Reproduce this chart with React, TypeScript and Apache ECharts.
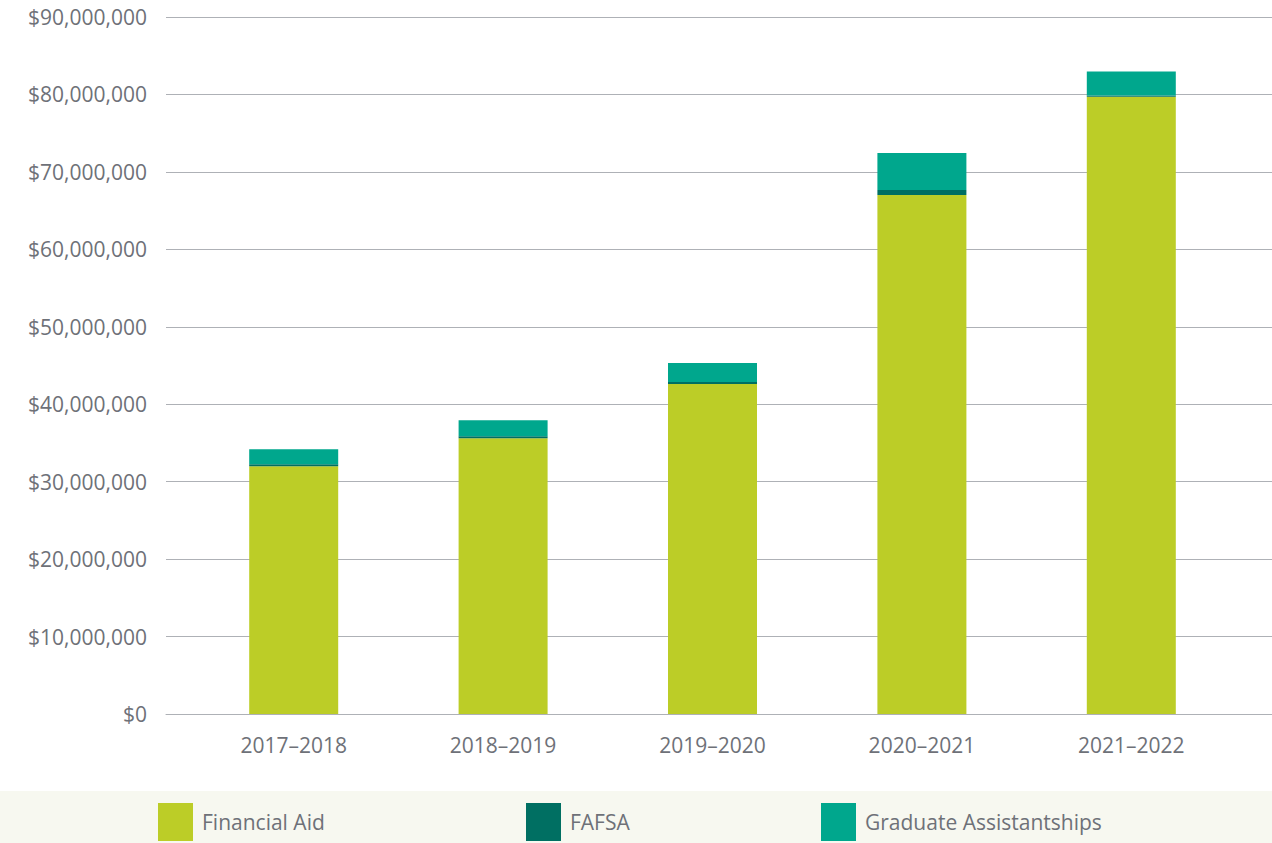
import React, { useEffect, useRef } from "react";
import * as echarts from "echarts";

const categories = ["2017–2018", "2018–2019", "2019–2020", "2020–2021", "2021–2022"];
const financialAid = [32000000, 35600000, 42600000, 67000000, 79700000];
const fafsa = [260000, 260000, 260000, 650000, 150000];
const graduateAssistantships = [1940000, 2070000, 2450000, 4780000, 3100000];
const yMax = 90000000;
const yInterval = 10000000;

const FONT = "'Open Sans', 'Noto Sans', sans-serif";
const TEXT = "#6e7178";
const GRID = "#aeb1b6";

export default function App() {
  const ref = useRef<HTMLDivElement>(null);
  useEffect(() => {
    document.body.style.margin = "0";
    const chart = echarts.init(ref.current!, undefined, { renderer: "svg" });
    const legendCommon = {
      top: 803,
      padding: 0,
      itemWidth: 35,
      itemHeight: 38,
      icon: "rect",
      textStyle: { fontFamily: FONT, fontSize: 21, color: TEXT, padding: [0, 0, 0, 4] },
      selectedMode: false,
    };
    chart.setOption({
      animation: false,
      textStyle: { fontFamily: FONT },
      graphic: [
        {
          type: "rect",
          z: -10,
          shape: { x: 0, y: 791, width: 1272, height: 52 },
          style: { fill: "#f7f8f0" },
          silent: true,
        },
      ],
      legend: [
        { ...legendCommon, left: 158, data: ["Financial Aid"] },
        { ...legendCommon, left: 526, data: ["FAFSA"] },
        { ...legendCommon, left: 821, data: ["Graduate Assistantships"] },
      ],
      grid: [
        { left: 166, right: 0, top: 17, height: 697 },
        { left: 189, width: 1047, top: 17, height: 697 },
      ],
      xAxis: [
        {
          gridIndex: 0,
          type: "category",
          data: categories,
          axisLine: { show: true, lineStyle: { color: GRID, width: 1 } },
          axisTick: { show: false },
          axisLabel: { show: false },
        },
        {
          gridIndex: 1,
          type: "category",
          data: categories,
          axisLine: { show: false },
          axisTick: { show: false },
          axisLabel: { fontFamily: FONT, fontSize: 21, color: TEXT, margin: 20 },
        },
      ],
      yAxis: [
        {
          gridIndex: 0,
          type: "value",
          min: 0,
          max: yMax,
          interval: yInterval,
          axisLine: { show: false },
          axisTick: { show: false },
          splitLine: { lineStyle: { color: GRID, width: 1 } },
          axisLabel: {
            fontFamily: FONT,
            fontSize: 21,
            color: TEXT,
            margin: 19,
            formatter: (v: number) => "$" + v.toLocaleString("en-US"),
          },
        },
        {
          gridIndex: 1,
          type: "value",
          min: 0,
          max: yMax,
          interval: yInterval,
          show: false,
          splitLine: { show: false },
        },
      ],
      series: [
        {
          name: "Financial Aid",
          type: "bar",
          stack: "total",
          xAxisIndex: 1,
          yAxisIndex: 1,
          barWidth: 89,
          data: financialAid,
          itemStyle: { color: "#bccd27" },
        },
        {
          name: "FAFSA",
          type: "bar",
          stack: "total",
          xAxisIndex: 1,
          yAxisIndex: 1,
          barWidth: 89,
          data: fafsa,
          itemStyle: { color: "#006f62" },
        },
        {
          name: "Graduate Assistantships",
          type: "bar",
          stack: "total",
          xAxisIndex: 1,
          yAxisIndex: 1,
          barWidth: 89,
          data: graduateAssistantships,
          itemStyle: { color: "#00a78d" },
        },
      ],
    });
    return () => chart.dispose();
  }, []);
  return (
    <div
      ref={ref}
      style={{ position: "absolute", left: 0, top: 0, width: 1272, height: 843, background: "#fff" }}
    />
  );
}
